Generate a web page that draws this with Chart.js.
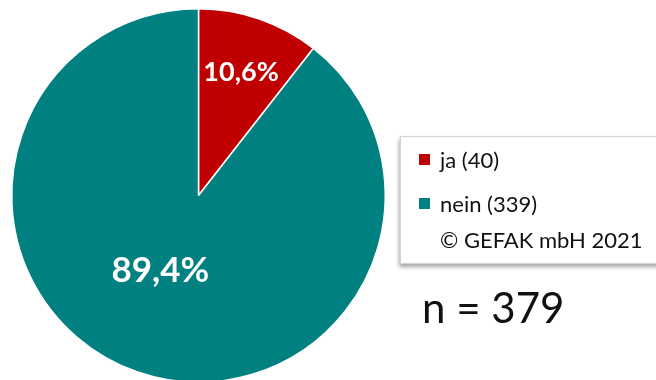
<!DOCTYPE html>
<html lang="de">
<head>
    <meta charset="utf-8" />
    <title>ja / nein</title>
    <script src="https://cdn.jsdelivr.net/npm/chart.js"></script>
    <style>
        html, body { margin: 0; padding: 0; background: #fff; }
        body { width: 656px; height: 380px; overflow: hidden; position: relative; font-family: Lato, "Open Sans", sans-serif; }
        #pie { position: absolute; left: 0; top: 0; }
        #legend {
            position: absolute; left: 400px; top: 136px; width: 280px; height: 128px;
            background: #fff; border: 1px solid #d4d4d4; box-sizing: border-box;
            box-shadow: -1px 3px 4px rgba(0, 0, 0, 0.35);
            padding-top: 0px; color: #111; font-size: 22px;
        }
        #legend .row { height: 44px; display: flex; align-items: center; padding-left: 18px; }
        #legend .row.note { margin-top: -8px; padding-left: 39px; }
        #legend .swatch { width: 11px; height: 11px; margin-right: 10px; }
        #total { position: absolute; left: 422px; top: 280px; font-size: 42px; color: #111; line-height: 54px; }
    </style>
</head>
<body>
    <canvas id="pie" width="656" height="400"></canvas>
    <div id="legend"></div>
    <div id="total"></div>

    <script>
        const categories = ['ja', 'nein'];
        const counts = [40, 339];
        const colors = ['#C00000', '#008080'];
        const footnote = '\u00A9 GEFAK mbH 2021';

        const total = counts.reduce((a, b) => a + b, 0);
        const pctLabels = counts.map(c => (c / total * 100).toFixed(1).replace('.', ',') + '%');

        // where each percentage sits inside its slice (fraction of radius, nudge in degrees) and its size
        const labelPlace = [{ r: 0.70, turn: 0, size: 27 }, { r: 0.45, turn: 8, size: 35 }];

        const pctLabelPlugin = {
            id: 'pctLabels',
            afterDatasetsDraw(chart) {
                const ctx = chart.ctx;
                const arcs = chart.getDatasetMeta(0).data;
                ctx.save();
                ctx.fillStyle = '#fff';
                ctx.textAlign = 'center';
                ctx.textBaseline = 'middle';
                arcs.forEach((arc, i) => {
                    const p = arc.getProps(['x', 'y', 'startAngle', 'endAngle', 'outerRadius'], true);
                    const place = labelPlace[i];
                    const mid = (p.startAngle + p.endAngle) / 2 + place.turn * Math.PI / 180;
                    const d = p.outerRadius * place.r;
                    ctx.font = 'bold ' + place.size + 'px Lato, "Open Sans", sans-serif';
                    ctx.fillText(pctLabels[i], p.x + Math.cos(mid) * d, p.y + Math.sin(mid) * d);
                });
                ctx.restore();
            }
        };

        new Chart(document.getElementById('pie'), {
            type: 'pie',
            data: {
                labels: categories,
                datasets: [{
                    data: counts,
                    backgroundColor: colors,
                    borderColor: '#fff',
                    borderWidth: 1.5
                }]
            },
            options: {
                responsive: false,
                animation: false,
                layout: { padding: { left: 11, top: 8, right: 270, bottom: 17 } },
                plugins: {
                    legend: { display: false },
                    tooltip: { enabled: false }
                }
            },
            plugins: [pctLabelPlugin]
        });

        const legend = document.getElementById('legend');
        legend.innerHTML = categories.map((c, i) =>
            `<div class="row"><span class="swatch" style="background:${colors[i]}"></span>${c} (${counts[i]})</div>`
        ).join('') + `<div class="row note">${footnote}</div>`;

        document.getElementById('total').textContent = 'n = ' + total;
    </script>
</body>
</html>
